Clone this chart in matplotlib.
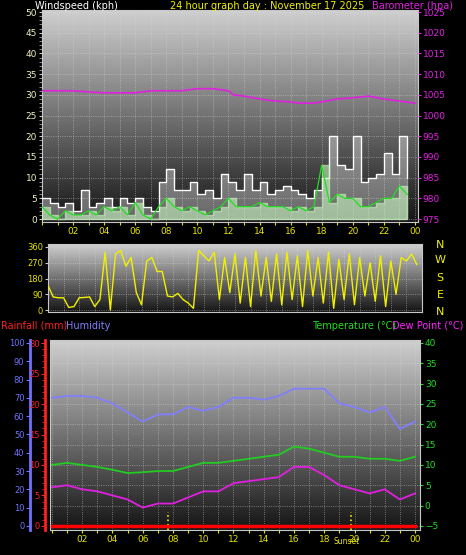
import numpy as np
import matplotlib
matplotlib.use("Agg")
import matplotlib.pyplot as plt
from matplotlib.colors import LinearSegmentedColormap

W, H = 466, 555

# ---- data ----
hour_labels = ["02", "04", "06", "08", "10", "12", "14", "16", "18", "20", "22", "00"]

# wind, half-hourly (kph)
wind_gust = [5, 4, 3, 4, 2, 7, 3, 4, 5, 3, 5, 4,
             5, 3, 2, 9, 12, 7, 7, 9, 6, 7, 5, 11,
             9, 7, 11, 7, 9, 6, 7, 8, 7, 6, 5, 7,
             10, 20, 13, 12, 20, 9, 10, 11, 16, 11, 20, 10]
wind_avg = [3, 1, 0, 2, 1, 1, 2, 1, 3, 2, 3, 1,
            4, 1, 0, 3, 5, 3, 2, 3, 2, 1, 2, 3,
            5, 3, 3, 3, 4, 3, 3, 3, 2, 3, 2, 3,
            13, 4, 6, 5, 5, 3, 3, 4, 5, 5, 8, 6]
baro_hours = [0, 1, 2, 3, 4, 5, 6, 7, 8, 9, 10, 11, 12, 12.3, 13, 14, 15, 16, 16.5, 17.5, 19, 20, 21, 22, 23, 24]
baro = [1006, 1006, 1006, 1005.7, 1005.5, 1005.5, 1005.5, 1006, 1006, 1006, 1006.5, 1006.5, 1006,
        1005, 1004.7, 1004, 1003.5, 1003.3, 1003, 1003, 1004, 1004.3, 1004.7, 1004, 1003.5, 1003]

# wind direction, every 20 minutes (degrees)
wind_dir = [140, 75, 70, 70, 15, 20, 70, 72, 75, 20, 60, 330,
            0, 320, 340, 250, 300, 100, 30, 280, 300, 220, 220, 80,
            75, 95, 60, 40, 10, 340, 310, 280, 330, 60, 300, 100,
            320, 40, 300, 20, 340, 80, 300, 50, 320, 30, 330, 60,
            310, 20, 340, 80, 300, 40, 330, 10, 290, 60, 320, 30,
            300, 80, 270, 50, 310, 20, 280, 90, 300, 280, 320, 260]

# hourly temperature / dew point / humidity
hours = list(range(25))
humidity = [70, 71, 71, 70, 67, 62, 57, 61, 61, 65, 63, 65, 70, 70, 69, 71, 75, 75, 75, 67, 65, 62, 65, 53, 57]
temperature = [10, 10.5, 10, 9.5, 8.8, 8, 8.2, 8.5, 8.5, 9.5, 10.5, 10.5, 11, 11.5, 12, 12.5, 14.5, 14, 13, 12, 12, 11.5, 11.5, 11, 12]
dew_point = [4.5, 5, 4, 3.5, 2.5, 1.5, -0.5, 0.5, 0.5, 2, 3.5, 3.5, 5.5, 6, 6.5, 7, 9.5, 9.5, 7.5, 5, 4, 3, 4, 1.5, 3]
rainfall = [0] * 25
sunrise, sunset = 7.7, 19.8

# ---- figure ----
fig = plt.figure(figsize=(W / 100, H / 100), dpi=100, facecolor="black")
cmap = LinearSegmentedColormap.from_list("bg", ["#151515", "#cfcfcf"])


def rect(l, t, r, b):
    return [l / W, (H - b) / H, (r - l) / W, (b - t) / H]


def style(ax):
    ax.set_facecolor("black")
    ax.imshow(np.linspace(0, 1, 256).reshape(-1, 1), cmap=cmap, origin="lower",
              extent=[0, 1, 0, 1], transform=ax.transAxes, aspect="auto", zorder=0)
    ax.grid(True, color="#d8d8d8", linestyle=":", linewidth=0.6, alpha=0.6)
    for s in ax.spines.values():
        s.set_color("#c8c8c8")
    ax.tick_params(colors="#c8c8c8", labelsize=6.5, length=2, pad=1.5)


def hour_ticklabels():
    return ["" if h % 2 or h == 0 else hour_labels[h // 2 - 1] for h in range(25)]


fs = 7

# top: wind + barometer
ax1 = fig.add_axes(rect(42, 10, 418, 222))
style(ax1)
t_half = np.arange(len(wind_gust)) * 0.5
ax1.fill_between(t_half, wind_gust, step="post", color="white", alpha=0.35, zorder=2)
ax1.step(t_half, wind_gust, where="post", color="white", lw=0.9, zorder=3)
ax1.fill_between(t_half, wind_avg, step="post", color="#c8f5c0", alpha=0.6, zorder=4)
ax1.plot(t_half, wind_avg, color="#22dd22", lw=0.9, zorder=5)
ax1.set_xlim(0, 24.2)
ax1.set_ylim(-0.7, 50.5)
ax1.set_yticks(range(0, 51, 5))
ax1.set_yticks(range(0, 51, 1), minor=True)
ax1.set_xticks(range(0, 25))
ax1.set_xticklabels(hour_ticklabels())
ax1.tick_params(axis="x", colors="#e6e600")
ax1.tick_params(axis="y", labelcolor="#f0f0c0")
ax1.tick_params(axis="y", which="minor", length=2, color="#a0a0a0")
ax1b = ax1.twinx()
ax1b.plot(baro_hours, baro, color="#e020e0", lw=1.2, zorder=6)
ax1b.set_ylim(975 - 0.7, 1025.5)
ax1b.set_yticks(range(975, 1026, 5))
ax1b.tick_params(colors="#e020e0", labelsize=6.5, length=2, pad=1.5)
for s in ax1b.spines.values():
    s.set_visible(False)
fig.text(35 / W, 1 - 6 / H, "Windspeed (kph)", color="white", fontsize=fs, va="center")
fig.text(267 / W, 1 - 6 / H, "24 hour graph day : November 17 2025", color="#f0f000", fontsize=fs, va="center", ha="center")
fig.text(372 / W, 1 - 6 / H, "Barometer (hpa)", color="#e020e0", fontsize=fs, va="center")

# middle: wind direction
ax2 = fig.add_axes(rect(48, 244, 422, 312))
style(ax2)
t_dir = np.arange(len(wind_dir)) / 3
ax2.plot(t_dir, wind_dir, color="#f0f000", lw=1.0, zorder=3)
ax2.set_xlim(0, 24)
ax2.set_ylim(-11, 377)
ax2.set_yticks([0, 90, 180, 270, 360])
ax2.set_xticks(range(0, 25))
ax2.set_xticklabels([])
ax2.tick_params(axis="x", length=0)
ax2.tick_params(axis="y", labelcolor="#e6e600", labelsize=6)
for lab, y in zip(["N", "W", "S", "E", "N"], [245, 260, 278, 295, 312]):
    fig.text(440 / W, 1 - y / H, lab, color="#f0f000", fontsize=8, ha="center", va="center")

# bottom: temperature, humidity, rain
ax3 = fig.add_axes(rect(50, 340, 420, 530))
style(ax3)
ax3.plot(hours, temperature, color="#22cc22", lw=1.3, zorder=4)
ax3.plot(hours, dew_point, color="#e020e0", lw=1.3, zorder=4)
ax3.set_xlim(-0.13, 24.33)
ax3.set_ylim(-6, 40.7)
ax3.set_xticks(range(0, 25))
ax3.set_xticklabels(hour_ticklabels())
ax3.tick_params(axis="x", colors="#e6e600")
ax3.vlines([sunrise, sunset], -6, -1.5, colors="#f0f000", linestyles=":", lw=1.2, zorder=5)
ax3.text(sunset - 0.3, -8.9, "Sunset", color="#e6e600", fontsize=5.5, ha="center", va="center")

axh = ax3.twinx()
axh.spines["left"].set_position(("axes", -20 / 370))
axh.spines["left"].set_visible(True)
axh.spines["left"].set_color("#7070ff")
axh.spines["left"].set_linewidth(2)
for k in ["right", "top", "bottom"]:
    axh.spines[k].set_visible(False)
axh.yaxis.set_ticks_position("left")
axh.yaxis.set_label_position("left")
axh.plot(hours, humidity, color="#8080ff", lw=1.3, zorder=4)
axh.set_ylim(-2.2, 101.6)
axh.set_yticks(range(0, 101, 10))
axh.tick_params(colors="#7070ff", labelsize=6, length=3, pad=1)

axr = ax3.twinx()
axr.spines["left"].set_position(("axes", -5 / 370))
axr.spines["left"].set_visible(True)
axr.spines["left"].set_color("#ff2020")
axr.spines["left"].set_linewidth(2)
for k in ["right", "top", "bottom"]:
    axr.spines[k].set_visible(False)
axr.yaxis.set_ticks_position("left")
axr.yaxis.set_label_position("left")
axr.plot(hours, rainfall, color="#ff0000", lw=2.5, zorder=6)
axr.set_ylim(-0.66, 30.5)
axr.set_yticks(range(0, 31, 5))
axr.set_yticks(range(0, 31, 1), minor=True)
axr.tick_params(colors="#ff2020", labelsize=6, length=3, pad=1)
axr.tick_params(which="minor", colors="#ff2020", length=2)

# temperature axis on the right (set after twinx, which moves ticks left)
ax3.yaxis.set_ticks_position("right")
ax3.yaxis.set_label_position("right")
ax3.set_yticks(range(-5, 41, 5))
ax3.tick_params(axis="y", colors="#22dd22", labelsize=6.5)

fig.text(1 / W, 1 - 326 / H, "Rainfall (mm)", color="#ff2020", fontsize=fs, va="center")
fig.text(66 / W, 1 - 326 / H, "Humidity", color="#8080ff", fontsize=fs, va="center")
fig.text(312 / W, 1 - 326 / H, "Temperature (\u00b0C)", color="#22dd22", fontsize=fs, va="center")
fig.text(392 / W, 1 - 326 / H, "Dew Point (\u00b0C)", color="#ff20ff", fontsize=fs, va="center")

fig.savefig("out.png", dpi=100, facecolor="black")
